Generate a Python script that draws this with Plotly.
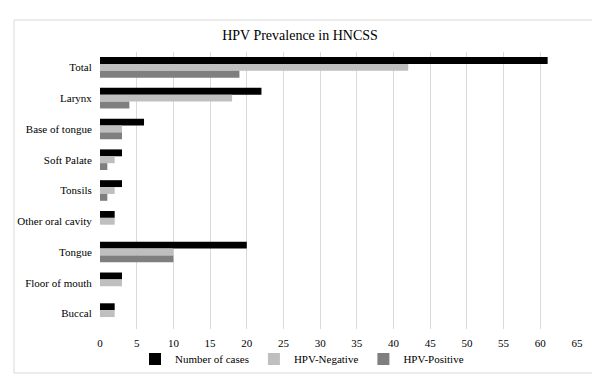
import plotly.graph_objects as go

categories = ["Total", "Larynx", "Base of tongue", "Soft Palate", "Tonsils",
              "Other oral cavity", "Tongue", "Floor of mouth", "Buccal"]
cases = [61, 22, 6, 3, 3, 2, 20, 3, 2]
hpv_negative = [42, 18, 3, 2, 2, 2, 10, 3, 2]
hpv_positive = [19, 4, 3, 1, 1, 0, 10, 0, 0]
x_ticks = list(range(0, 70, 5))

# page has an 8px body margin; positions below are screen positions minus 8
OFF = 8
W, H = 600, 388
L = 100 - OFF
T = 52 - OFF
R = W - (577 - OFF)
B = H - (329 - OFF)
pw, ph = W - L - R, H - T - B

font = "Liberation Serif"

fig = go.Figure()
fig.add_trace(go.Bar(y=categories, x=cases, name="Number of cases", orientation="h",
                     marker=dict(color="#000000", line=dict(width=0))))
fig.add_trace(go.Bar(y=categories, x=hpv_negative, name="HPV-Negative", orientation="h",
                     marker=dict(color="#BFBFBF", line=dict(width=0))))
fig.add_trace(go.Bar(y=categories, x=hpv_positive, name="HPV-Positive", orientation="h",
                     marker=dict(color="#7F7F7F", line=dict(width=0))))

# outer frame
bx0, bx1, by0, by1 = 14 - OFF, 593 - OFF, 20 - OFF, 373 - OFF
fig.add_shape(type="rect", xref="paper", yref="paper",
              x0=(bx0 - L) / pw, x1=(bx1 - L) / pw,
              y0=(H - B - by1) / ph, y1=(H - B - by0) / ph,
              line=dict(color="#D9D9D9", width=1), layer="below")

fig.update_layout(
    width=W, height=H,
    margin=dict(l=L, r=R, t=T, b=B, autoexpand=False),
    paper_bgcolor="white", plot_bgcolor="white",
    barmode="group", bargap=0.33, bargroupgap=0,
    font=dict(family=font, size=11, color="#000000"),
    title=dict(text="HPV Prevalence in HNCSS", x=(300 - OFF) / W, xanchor="center",
               y=1 - (35 - OFF) / H, yanchor="middle",
               font=dict(family=font, size=14, color="#000000")),
    showlegend=True,
    legend=dict(orientation="h", x=(302 - OFF) / W, xref="container", xanchor="center",
                y=(H - (359 - OFF)) / H, yref="container", yanchor="middle",
                bgcolor="rgba(0,0,0,0)",
                font=dict(family=font, size=11, color="#000000"),
                traceorder="normal", itemwidth=30),
    xaxis=dict(range=[0, 65], tickvals=x_ticks, showgrid=True, gridcolor="#D9D9D9",
               gridwidth=1, zeroline=False, showline=False, automargin=False,
               ticks="outside", ticklen=4, tickcolor="white",
               tickfont=dict(family=font, size=11, color="#000000")),
    yaxis=dict(autorange="reversed", showgrid=False, showline=False, automargin=False,
               ticks="outside", ticklen=5, tickcolor="white",
               tickfont=dict(family=font, size=11, color="#000000")),
)

fig.write_html("out.html")
